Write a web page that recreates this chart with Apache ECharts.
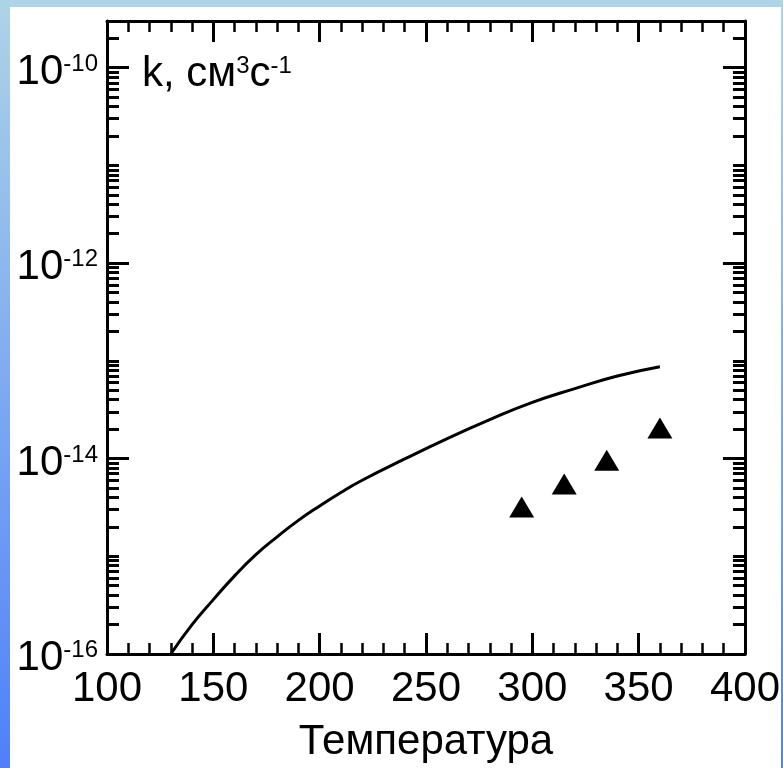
<!DOCTYPE html>
<html>
<head>
<meta charset="utf-8">
<script src="https://cdn.jsdelivr.net/npm/echarts@6/dist/echarts.min.js"></script>
<style>
  html, body { margin: 0; padding: 0; background: #fff; }
  #chart { width: 783px; height: 768px; }
</style>
</head>
<body>
<div id="chart"></div>
<script>
// calculated rate constant (solid line)
const temps = [130, 140, 150, 160, 170, 180, 190, 200, 210, 220, 240, 260, 280, 300, 320, 340, 360];
const kCalc = [1.0e-16, 2.0e-16, 3.6e-16, 6.3e-16, 1.04e-15, 1.58e-15, 2.33e-15, 3.27e-15, 4.5e-15,
  6.0e-15, 9.9e-15, 1.6e-14, 2.5e-14, 3.76e-14, 5.2e-14, 7.0e-14, 8.7e-14];
// experiment (triangles)
const tExp = [295, 315, 335, 360];
const kExp = [3.2e-15, 5.5e-15, 9.6e-15, 2.05e-14];

const xMin = 100, xMax = 400;
const yMin = 1e-16, yMax = 3e-10;
const yLabelExps = [-16, -14, -12, -10];

const FONT = '"Liberation Sans", Arial, sans-serif';
const logMin = Math.log10(yMin), logMax = Math.log10(yMax);

// minor ticks: 2..9 in each decade + unlabelled decades
const minorTicks = [];
for (let d = -16; d <= -10; d++) {
  if (!yLabelExps.includes(d)) minorTicks.push(d);
  for (let m = 2; m <= 9; m++) {
    const v = d + Math.log10(m);
    if (v <= logMax) minorTicks.push(v);
  }
}

const black = '#000';
const line = { lineStyle: { color: black, width: 3 } };

// "10" + superscript, superscript top lined up with the cap height
const supRich = {
  b: { fontSize: 42, color: black, fontFamily: FONT, fontWeight: 'normal', verticalAlign: 'bottom', padding: [9, 0, 0, 0] },
  s: { fontSize: 24, color: black, fontFamily: FONT, fontWeight: 'normal', verticalAlign: 'top', padding: [10, 0, 0, 0] }
};

function xAx(pos, labels) {
  return {
    type: 'value', position: pos, min: xMin, max: xMax, interval: 50,
    axisLine: { show: true, onZero: false, ...line },
    axisTick: { inside: true, length: 21, lineStyle: { color: black, width: 3 } },
    minorTick: { show: true, splitNumber: 5, length: 11, lineStyle: { color: black, width: 2.5 } },
    splitLine: { show: false },
    axisLabel: { show: labels, fontSize: 42, margin: 14, color: black, fontFamily: FONT },
    name: labels ? 'Температура' : '',
    nameLocation: 'middle', nameGap: 67,
    nameTextStyle: { fontSize: 42, color: black, fontFamily: FONT }
  };
}

function yTicks(pos, values, len, labels) {
  return {
    type: 'value', position: pos, min: logMin, max: logMax,
    axisLine: { show: false, onZero: false },
    axisTick: { inside: true, length: len, customValues: values, lineStyle: { color: black, width: 3 } },
    splitLine: { show: false },
    axisLabel: {
      show: labels, customValues: yLabelExps, margin: 9,
      formatter: v => '{b|10}{s|' + v + '}',
      rich: supRich
    }
  };
}

const chart = echarts.init(document.getElementById('chart'));
chart.setOption({
  backgroundColor: '#fff',
  animation: false,
  graphic: [
    { type: 'rect', z: -10, shape: { x: 0, y: 0, width: 783, height: 7 }, style: { fill: '#aed4e7' } },
    {
      type: 'rect', z: -10, shape: { x: 0, y: 0, width: 10, height: 768 },
      style: { fill: new echarts.graphic.LinearGradient(0, 0, 0, 1, [
        { offset: 0, color: '#aed4e7' }, { offset: 1, color: '#4f80fa' }]) }
    },
    {
      type: 'rect', z: -10, shape: { x: 781, y: 0, width: 2, height: 768 },
      style: { fill: new echarts.graphic.LinearGradient(0, 0, 0, 1, [
        { offset: 0, color: '#aed4e7' }, { offset: 1, color: '#4f80fa' }]) }
    }
  ],
  title: {
    text: '{b|k, см}{s|3}{b|с}{s|-1}',
    left: 142, top: 44, padding: 0,
    textStyle: { fontWeight: 'normal', rich: supRich }
  },
  grid: { left: 107, right: 38, top: 21, bottom: 114 },
  xAxis: [xAx('bottom', true), xAx('top', false)],
  yAxis: [
    {
      type: 'log', logBase: 10, position: 'left', min: yMin, max: yMax,
      axisLine: { show: true, onZero: false, ...line },
      axisTick: { show: false }, axisLabel: { show: false }, splitLine: { show: false }
    },
    yTicks('left', yLabelExps, 22, true),
    yTicks('left', minorTicks, 12, false),
    {
      type: 'log', logBase: 10, position: 'right', min: yMin, max: yMax,
      axisLine: { show: true, onZero: false, ...line },
      axisTick: { show: false }, axisLabel: { show: false }, splitLine: { show: false }
    },
    yTicks('right', yLabelExps, 22, false),
    yTicks('right', minorTicks, 12, false)
  ],
  series: [
    {
      type: 'line', xAxisIndex: 0, yAxisIndex: 0,
      data: temps.map((t, i) => [t, kCalc[i]]),
      smooth: true, showSymbol: false,
      lineStyle: { color: black, width: 3 }
    },
    {
      type: 'scatter', xAxisIndex: 0, yAxisIndex: 0,
      data: tExp.map((t, i) => [t, kExp[i]]),
      symbol: 'triangle', symbolSize: [25, 21],
      itemStyle: { color: black, opacity: 1 }
    }
  ]
});
</script>
</body>
</html>
